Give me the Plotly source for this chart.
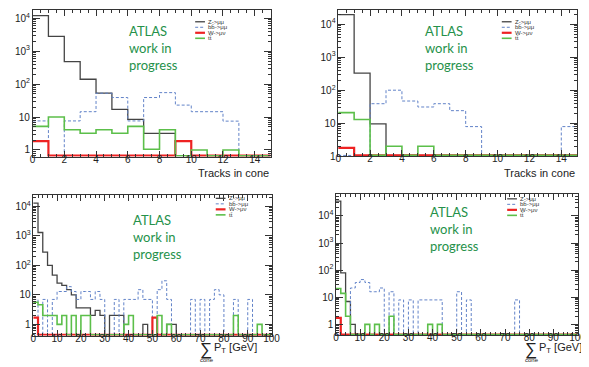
import plotly.graph_objects as go

# bin edges
trk_edges = [0, 1, 2, 3, 4, 5, 6, 7, 8, 9, 10, 11, 12, 13, 14, 15]
pt_edges = [0, 2, 4, 6, 8, 10, 12, 14, 16, 18, 20, 22, 24, 26, 28, 30, 32, 34, 36, 38,
            40, 42, 44, 46, 48, 50, 52, 54, 56, 58, 60, 62, 64, 66, 68, 70, 72, 74, 76, 78,
            80, 82, 84, 86, 88, 90, 92, 94, 96, 98, 100]

samples = ['Z->μμ', 'bb̄->μμ', 'W->μν', 'tt̄']
colors = ['#444444', '#6283c8', '#ee2222', '#5cbf4a']
dashes = ['solid', '3px,2px', 'solid', 'solid']
widths = [1.3, 1.0, 2.2, 1.6]

# top left: tracks in cone
tl_z = [12000, 2800, 480, 140, 53, 17, 8.5, 3.2, 3.2, 0, 0, 0, 0, 0, 0]
tl_bb = [7.6, 0, 7.6, 14.5, 53, 39, 7.6, 39, 55, 23, 14.5, 14.5, 7.5, 0, 0]
tl_w = [1.85, 0, 0, 0, 0, 0, 0, 0, 0, 1.85, 0, 0, 0, 0, 0]
tl_tt = [5.2, 10, 4.1, 3.2, 4.1, 3.2, 5.2, 1.05, 4.1, 0, 1, 0, 1, 0, 0]

# top right: tracks in cone
tr_z = [19500, 330, 9.5, 0, 0, 0, 0, 0, 0, 0, 0, 0, 0, 0, 0]
tr_bb = [0, 0, 39, 100, 47, 31, 39, 24, 7.9, 0, 0, 0, 0, 0, 7.9]
tr_w = [1.8, 0, 0, 0, 0, 0, 0, 0, 0, 0, 0, 0, 0, 0, 0]
tr_tt = [21, 13, 0, 2, 0, 2, 0, 0, 0, 0, 0, 0, 0, 0, 0]

# bottom left: sum pT in cone
bl_z = [13000, 1300, 280, 100, 47, 25, 21, 15, 10, 3.6,
        3.6, 3.6, 2, 3, 2, 0, 2, 2, 2, 0,
        0, 0, 0, 1, 0, 0, 0, 0, 1, 1,
        0, 0, 0, 0, 0, 0, 0, 0, 0, 0,
        0, 0, 0, 0, 0, 0, 0, 0, 0, 0]
bl_bb = [7, 0, 7, 0, 7, 13, 13, 19, 13, 7,
         13, 13, 7, 13, 7, 0, 0, 7, 0, 7,
         7, 7, 15, 7, 7, 0, 15, 30, 7, 0,
         0, 0, 0, 7, 0, 7, 0, 7, 15, 10,
         0, 0, 7, 0, 0, 7, 0, 0, 0, 0]
bl_w = [1.7, 0, 0, 0, 0, 0, 0, 0, 0, 0,
        0, 0, 0, 0, 0, 0, 0, 0, 0, 0,
        0, 0, 0, 0, 0, 1.7, 0, 0, 0, 0,
        0, 0, 0, 0, 0, 0, 0, 0, 0, 0,
        0, 0, 0, 0, 0, 0, 0, 0, 0, 0]
bl_tt = [5.6, 4.6, 2, 2, 2, 1, 2, 0, 2, 0,
         2, 2, 0, 0, 0, 0, 0, 0, 0, 1,
         2, 0, 0, 0, 0, 0, 2, 0, 1, 0,
         0, 0, 0, 0, 0, 0, 0, 0, 0, 0,
         0, 0, 2, 0, 0, 0, 0, 1, 0, 0]

# bottom right: sum pT in cone
br_z = [35000, 80, 7, 1, 0, 0, 0, 0, 0, 0,
        0, 0, 0, 0, 0, 0, 0, 0, 0, 0,
        0, 0, 0, 0, 0, 0, 0, 0, 0, 0,
        0, 0, 0, 0, 0, 0, 0, 0, 0, 0,
        0, 0, 0, 0, 0, 0, 0, 0, 0, 0]
br_bb = [0, 0, 0, 22, 35, 45, 35, 16, 16, 22,
         0, 16, 0, 8, 0, 8, 0, 8, 8, 8,
         8, 8, 0, 0, 0, 16, 0, 8, 0, 0,
         0, 0, 0, 0, 0, 0, 0, 8, 0, 0,
         0, 0, 0, 0, 0, 0, 0, 0, 0, 0]
br_w = [1.75, 0, 0, 0, 0, 0, 0, 0, 0, 0,
        0, 0, 0, 0, 0, 0, 0, 0, 0, 0,
        0, 0, 0, 0, 0, 0, 0, 0, 0, 0,
        0, 0, 0, 0, 0, 0, 0, 0, 0, 0,
        0, 0, 0, 0, 0, 0, 0, 0, 0, 0]
br_tt = [21, 14, 2, 0, 0, 0, 1, 0, 1, 0,
         0, 2, 0, 0, 0, 0, 0, 0, 0, 1,
         0, 1, 0, 0, 0, 0, 0, 0, 0, 0,
         0, 0, 0, 0, 0, 0, 0, 0, 0, 0,
         0, 0, 0, 0, 0, 0, 0, 0, 0, 0]

W, H = 589, 367


def px(x):
    return x / W


def py(y):
    return 1 - y / H


# pixel boxes of the four frames (left, right, top, bottom) and log y ranges
panels = [
    dict(ax='', edges=trk_edges, data=[tl_z, tl_bb, tl_w, tl_tt], box=(22, 265, 2, 151),
         xr=[0, 15], yr=[-0.2, 4.25], dt=2, mdt=0.5, atlas=(118, 13), leg=(188, 14)),
    dict(ax='2', edges=trk_edges, data=[tr_z, tr_bb, tr_w, tr_tt], box=(334, 578, 2, 150.7),
         xr=[0, 15], yr=[0, 4.43], dt=2, mdt=0.5, atlas=(421, 13), leg=(501, 14)),
    dict(ax='3', edges=pt_edges, data=[bl_z, bl_bb, bl_w, bl_tt], box=(22.7, 266, 190, 333),
         xr=[0, 100], yr=[-0.38, 4.39], dt=10, mdt=2, atlas=(123, 205), leg=(209, 193.5)),
    dict(ax='4', edges=pt_edges, data=[br_z, br_bb, br_w, br_tt], box=(331.7, 578.3, 189.3, 332.7),
         xr=[0, 100], yr=[-0.4, 4.8], dt=10, mdt=2, atlas=(425.7, 197), leg=(506.5, 194)),
]

fig = go.Figure()
shapes = []
annotations = []
frame = '#333333'
tickfont = dict(family='Liberation Sans, Arial, sans-serif', size=10, color='#222222')

for p in panels:
    floor = 10 ** (p['yr'][0] + 0.025)
    for name, vals, c, d, w in zip(samples, p['data'], colors, dashes, widths):
        y = [v if v > 0 else floor for v in vals]
        fig.add_trace(go.Scatter(
            x=p['edges'], y=y + [y[-1]], mode='lines', line_shape='hv', name=name,
            line=dict(color=c, dash=d, width=w), showlegend=False,
            xaxis='x' + p['ax'], yaxis='y' + p['ax'],
        ))

    l, r, t, b = p['box']
    fig.update_layout({
        'xaxis' + p['ax']: dict(
            domain=[px(l), px(r)], anchor='y' + p['ax'], range=p['xr'],
            showline=True, linecolor=frame, linewidth=1, mirror='allticks',
            ticks='inside', ticklen=6, tickcolor=frame, tick0=0, dtick=p['dt'],
            minor=dict(ticks='inside', ticklen=3, dtick=p['mdt'], tickcolor=frame),
            showgrid=False, zeroline=False, tickfont=tickfont, ticklabelstandoff=-7,
        ),
        'yaxis' + p['ax']: dict(
            domain=[py(b), py(t)], anchor='x' + p['ax'], type='log', range=p['yr'],
            showline=True, linecolor=frame, linewidth=1, mirror='allticks',
            ticks='inside', ticklen=7, tickcolor=frame, dtick=1, exponentformat='power',
            minor=dict(ticks='inside', ticklen=3, dtick='D1', tickcolor=frame),
            showgrid=False, zeroline=False, tickfont=dict(tickfont, size=8),
        ),
    })

    # ATLAS label
    ax_, ay_ = p['atlas']
    annotations.append(dict(
        xref='paper', yref='paper', x=px(ax_), y=py(ay_), xanchor='left', yanchor='top',
        text='ATLAS<br>work in<br>progress', align='left', showarrow=False,
        font=dict(family='Lato, Open Sans, sans-serif', size=13, color='#25914a'),
    ))

    # small legend in the top right corner
    lx, ly = p['leg']
    for i, (name, c, d, w) in enumerate(zip(samples, colors, dashes, widths)):
        yy = py(ly + i * 5.6)
        shapes.append(dict(type='line', xref='paper', yref='paper', x0=px(lx), x1=px(lx + 10),
                           y0=yy, y1=yy, line=dict(color=c, dash=d, width=w)))
        annotations.append(dict(
            xref='paper', yref='paper', x=px(lx + 11.5), y=yy, xanchor='left', yanchor='middle',
            text=name, showarrow=False,
            font=dict(family='Liberation Sans, Arial, sans-serif', size=6, color='#333333'),
        ))

# axis titles
title_font = dict(family='Liberation Sans, Arial, sans-serif', size=11, color='#222222')
for right in [265, 578]:
    annotations.append(dict(xref='paper', yref='paper', x=px(right), y=py(167.7),
                            xanchor='right', yanchor='middle', text='Tracks in cone',
                            showarrow=False, font=title_font))
for sx in [199, 531]:
    annotations.append(dict(xref='paper', yref='paper', x=px(sx), y=py(347),
                            xanchor='center', yanchor='middle', text='∑', showarrow=False,
                            font=dict(title_font, size=17)))
    annotations.append(dict(xref='paper', yref='paper', x=px(sx + 6), y=py(345.5),
                            xanchor='left', yanchor='middle', text='P<sub>T</sub> [GeV]',
                            showarrow=False, font=title_font))
    annotations.append(dict(xref='paper', yref='paper', x=px(sx + 1), y=py(358),
                            xanchor='center', yanchor='middle', text='cone', showarrow=False,
                            font=dict(title_font, size=6)))

fig.update_layout(
    width=W, height=H, margin=dict(l=0, r=0, t=0, b=0),
    paper_bgcolor='white', plot_bgcolor='white',
    shapes=shapes, annotations=annotations,
)

fig.write_html("out.html")
